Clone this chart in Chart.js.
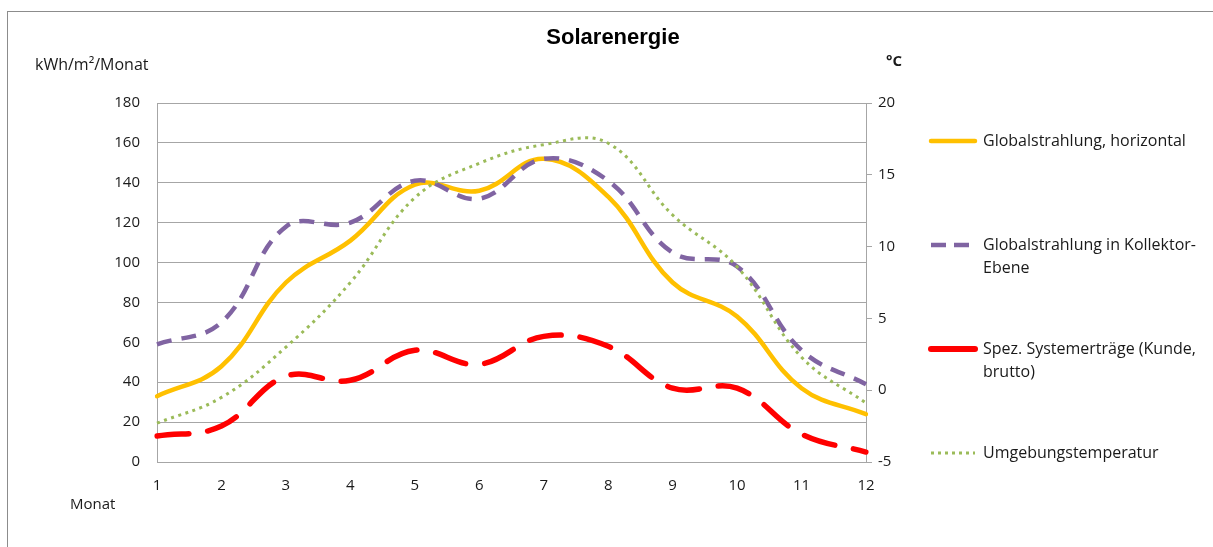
<!DOCTYPE html>
<html>
<head>
<meta charset="utf-8">
<script src="https://cdn.jsdelivr.net/npm/chart.js@4/dist/chart.umd.min.js"></script>
<style>
  html, body { margin: 0; padding: 0; background: #fff; }
  #wrap { position: relative; width: 1213px; height: 547px; }
  #frame { position: absolute; left: 7px; top: 11px; right: -5px; bottom: -5px;
           border-top: 1px solid #8c8c8c; border-left: 1px solid #8c8c8c; }
  canvas { position: absolute; left: 0; top: 0; }
</style>
</head>
<body>
<div id="wrap">
  <div id="frame"></div>
  <canvas id="solarChart" width="1213" height="547"></canvas>
</div>
<script>
// Daten
const monate = ["1","2","3","4","5","6","7","8","9","10","11","12"];
const globalHorizontal = [33, 48, 90, 111, 139, 136, 152, 133, 90, 73, 37, 24];
const globalKollektor = [59, 70, 118, 120, 141, 132, 152, 141, 105, 98, 56, 39];
const systemErtraege = [13, 18, 43, 41, 56, 49, 63, 58, 37, 37, 14, 5];
const temperatur = [-2.3, -0.5, 3.0, 7.5, 13.4, 15.8, 17.1, 17.2, 12.2, 8.6, 2.3, -0.9];

const legendLines = [
  ["Globalstrahlung, horizontal"],
  ["Globalstrahlung in Kollektor-", "Ebene"],
  ["Spez. Systemerträge (Kunde,", "brutto)"],
  ["Umgebungstemperatur"]
];

const FONT = "'Open Sans', 'Noto Sans', sans-serif";

// Titel, Achsentitel und Legende
const textPlugin = {
  id: "texte",
  afterDraw(chart) {
    const c = chart.ctx;
    c.save();
    c.fillStyle = "#000";
    c.textBaseline = "middle";
    c.textAlign = "center";
    c.font = "bold 22px 'Liberation Sans', Arial, sans-serif";
    c.fillText("Solarenergie", 613, 38);

    c.font = "16px " + FONT;
    c.fillStyle = "#1a1a1a";
    c.textAlign = "left";
    c.fillText("kWh/m²/Monat", 35, 65);
    c.font = "15px " + FONT;
    c.fillText("Monat", 70, 505);
    c.font = "bold 15px " + FONT;
    c.fillText("°C", 886, 62);

    // Legende
    chart.data.datasets.forEach((ds, i) => {
      const y = 141 + i * 104;
      c.beginPath();
      c.strokeStyle = ds.borderColor;
      c.lineWidth = ds.legendWidth;
      c.setLineDash(ds.legendDash);
      c.lineCap = ds.borderCapStyle;
      c.moveTo(931, y);
      c.lineTo(975, y);
      c.stroke();
      c.setLineDash([]);
      c.font = "16px " + FONT;
      c.fillStyle = "#1a1a1a";
      legendLines[i].forEach((t, k) => c.fillText(t, 983, y + k * 23));
    });
    c.restore();
  }
};

const ctx = document.getElementById("solarChart");
new Chart(ctx, {
  type: "line",
  data: {
    labels: monate,
    datasets: [
      {
        label: "Globalstrahlung, horizontal",
        data: globalHorizontal,
        yAxisID: "y",
        borderColor: "#FFC000",
        borderWidth: 4.5,
        borderCapStyle: "round",
        legendDash: [],
        legendWidth: 4.5,
        order: 3
      },
      {
        label: "Globalstrahlung in Kollektor-Ebene",
        data: globalKollektor,
        yAxisID: "y",
        borderColor: "#8064A2",
        borderWidth: 4.5,
        borderDash: [15, 10],
        borderCapStyle: "butt",
        legendDash: [15, 8],
        legendWidth: 4.5,
        order: 2
      },
      {
        label: "Spez. Systemerträge (Kunde, brutto)",
        data: systemErtraege,
        yAxisID: "y",
        borderColor: "#FF0000",
        borderWidth: 5.5,
        borderDash: [32, 19],
        borderCapStyle: "round",
        legendDash: [],
        legendWidth: 6,
        order: 1
      },
      {
        label: "Umgebungstemperatur",
        data: temperatur,
        yAxisID: "y1",
        borderColor: "#9BBB59",
        borderWidth: 3,
        borderDash: [3, 4.5],
        borderCapStyle: "butt",
        legendDash: [3, 4],
        legendWidth: 3,
        order: 0
      }
    ]
  },
  options: {
    responsive: false,
    animation: false,
    layout: { padding: { top: 103, left: 0, right: 0, bottom: 0 } },
    elements: {
      line: { tension: 0.4, fill: false },
      point: { radius: 0, hoverRadius: 0 }
    },
    plugins: {
      legend: { display: false },
      title: { display: false },
      tooltip: { enabled: false }
    },
    scales: {
      x: {
        offset: false,
        grid: { display: false, drawTicks: false },
        border: { display: true, color: "#a6a6a6" },
        ticks: { padding: 15, color: "#1a1a1a", font: { family: FONT, size: 15 }, maxRotation: 0 },
        afterFit(s) { s.height = 85; }
      },
      y: {
        position: "left",
        min: 0, max: 180,
        ticks: { stepSize: 20, padding: 17, color: "#1a1a1a", font: { family: FONT, size: 15 } },
        grid: { color: "#a6a6a6", lineWidth: 1, drawTicks: false },
        border: { display: true, color: "#a6a6a6" },
        afterFit(s) { s.width = 157; }
      },
      y1: {
        position: "right",
        min: -5, max: 20,
        ticks: { stepSize: 5, padding: 6, color: "#1a1a1a", font: { family: FONT, size: 15 } },
        grid: { drawOnChartArea: false, drawTicks: true, tickLength: 6, color: "#a6a6a6" },
        border: { display: true, color: "#a6a6a6" },
        afterFit(s) { s.width = 347; }
      }
    }
  },
  plugins: [textPlugin]
});
</script>
</body>
</html>
